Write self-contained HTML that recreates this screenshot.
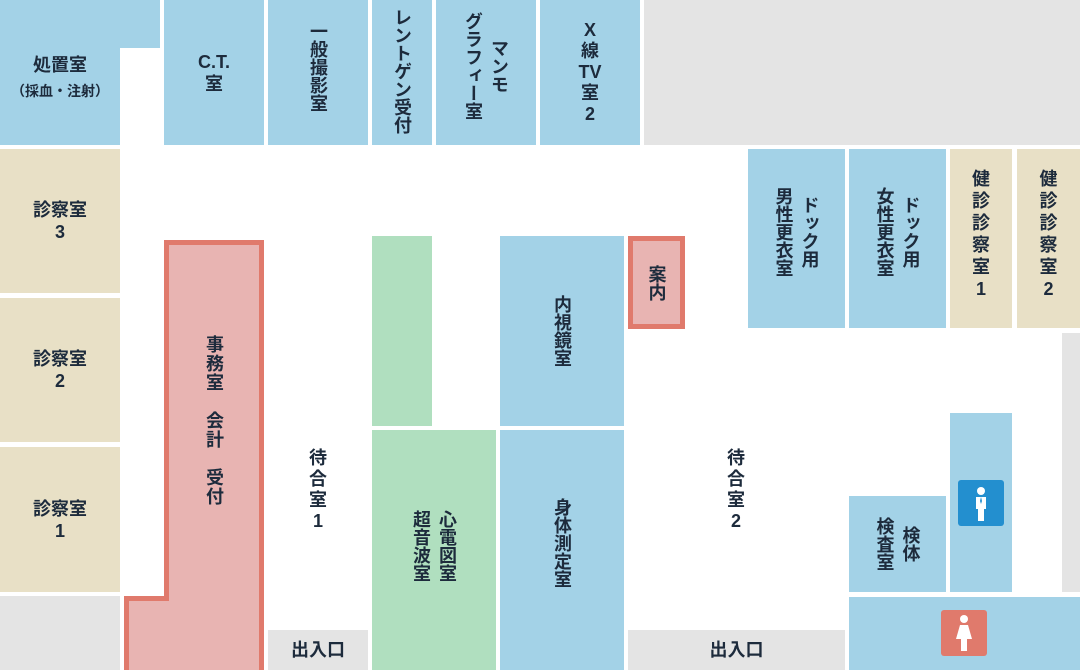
<!DOCTYPE html>
<html><head><meta charset="utf-8"><style>
body{margin:0;width:1080px;height:670px;position:relative;overflow:hidden;background:#fff;font-family:"Liberation Sans","Noto Sans CJK JP",sans-serif;font-weight:bold;color:#1d2b3c}
.r{position:absolute;display:flex;align-items:center;justify-content:center;text-align:center;font-size:18px;line-height:22px;box-sizing:border-box}
.b{background:#a3d2e7}.y{background:#e8e0c6}.g{background:#b0dfbf}.p{background:#e8b4b2}.gr{background:#e4e4e4}
.v{writing-mode:vertical-rl;text-orientation:upright;letter-spacing:0px;line-height:26px}
</style></head><body>
<div class="r b" style="left:0;top:0;width:160px;height:48px"></div>
<div class="r b" style="left:0;top:0;width:120px;height:145px;flex-direction:column;padding-top:10px">処置室<span style="font-size:14px;margin-top:4px">（採血・注射）</span></div>
<div class="r b" style="left:164px;top:0;width:100px;height:145px">C.T.<br>室</div>
<div class="r b v" style="left:268px;top:0;width:100px;height:145px;align-items:center;justify-content:flex-start;padding-top:22px">一般撮影室</div>
<div class="r b v" style="left:372px;top:0;width:60px;height:145px;justify-content:flex-start;padding-top:8px">レントゲン受付</div>
<div class="r b v" style="left:436px;top:0;width:100px;height:145px;justify-content:flex-start;padding-top:12px">マンモ<br>グラフィー室</div>
<div class="r b" style="left:540px;top:0;width:100px;height:145px;line-height:21px">X<br>線<br>TV<br>室<br>2</div>
<div class="r gr" style="left:644px;top:0;width:436px;height:145px"></div>
<div class="r y" style="left:0;top:149px;width:120px;height:144px">診察室<br>3</div>
<div class="r y" style="left:0;top:298px;width:120px;height:144px">診察室<br>2</div>
<div class="r y" style="left:0;top:447px;width:120px;height:145px">診察室<br>1</div>
<div class="r gr" style="left:0;top:596px;width:120px;height:74px"></div>
<div class="r" style="left:164px;top:240px;width:100px;height:430px;background:#e07a6c"></div>
<div class="r" style="left:124px;top:596px;width:140px;height:74px;background:#e07a6c"></div>
<div class="r p" style="left:169px;top:245px;width:90px;height:425px"></div>
<div class="r p" style="left:129px;top:601px;width:130px;height:69px"></div>
<div class="r v" style="left:169px;top:245px;width:90px;height:350px;letter-spacing:1px">事務室　会計　受付</div>
<div class="r" style="left:268px;top:440px;width:100px;height:100px;line-height:21px">待<br>合<br>室<br>1</div>
<div class="r gr" style="left:268px;top:630px;width:100px;height:40px">出入口</div>
<div class="r g" style="left:372px;top:236px;width:60px;height:190px"></div>
<div class="r g v" style="left:372px;top:430px;width:124px;height:240px;justify-content:flex-start;padding-top:80px">心電図室<br>超音波室</div>
<div class="r b v" style="left:500px;top:236px;width:124px;height:190px">内視鏡室</div>
<div class="r b v" style="left:500px;top:430px;width:124px;height:240px;justify-content:flex-start;padding-top:68px">身体測定室</div>
<div class="r p v" style="left:628px;top:236px;width:57px;height:93px;border:5px solid #e07a6c">案内</div>
<div class="r" style="left:686px;top:440px;width:100px;height:100px;line-height:21px">待<br>合<br>室<br>2</div>
<div class="r gr" style="left:628px;top:630px;width:217px;height:40px">出入口</div>
<div class="r b v" style="left:748px;top:149px;width:97px;height:179px;justify-content:flex-start;padding-top:38px">ドック用<br>男性更衣室</div>
<div class="r b v" style="left:849px;top:149px;width:97px;height:179px;justify-content:flex-start;padding-top:38px">ドック用<br>女性更衣室</div>
<div class="r y" style="left:950px;top:149px;width:62px;height:179px;line-height:22px;padding-bottom:10px">健<br>診<br>診<br>察<br>室<br>1</div>
<div class="r y" style="left:1017px;top:149px;width:63px;height:179px;line-height:22px;padding-bottom:10px">健<br>診<br>診<br>察<br>室<br>2</div>
<div class="r gr" style="left:1062px;top:333px;width:18px;height:259px"></div>
<div class="r b v" style="left:849px;top:496px;width:97px;height:96px">検体<br>検査室</div>
<div class="r b" style="left:950px;top:413px;width:62px;height:179px"></div>
<div style="position:absolute;left:958px;top:480px;width:46px;height:46px;background:#238fcf;border-radius:3px">
<svg width="46" height="46"><circle cx="23" cy="11" r="4" fill="#fff"/><path d="M18 17h10v12h-2v12h-6v-12h-2z" fill="#fff"/><path d="M23 17l-1 4 1 3 1-3z" fill="#238fcf"/></svg></div>
<div class="r b" style="left:849px;top:597px;width:231px;height:73px"></div>
<div style="position:absolute;left:941px;top:610px;width:46px;height:46px;background:#e07a6c;border-radius:3px">
<svg width="46" height="46"><circle cx="23" cy="9" r="4" fill="#fff"/><path d="M19 15h8l4 14h-5v12h-6v-12h-5z" fill="#fff"/></svg></div>
</body></html>
